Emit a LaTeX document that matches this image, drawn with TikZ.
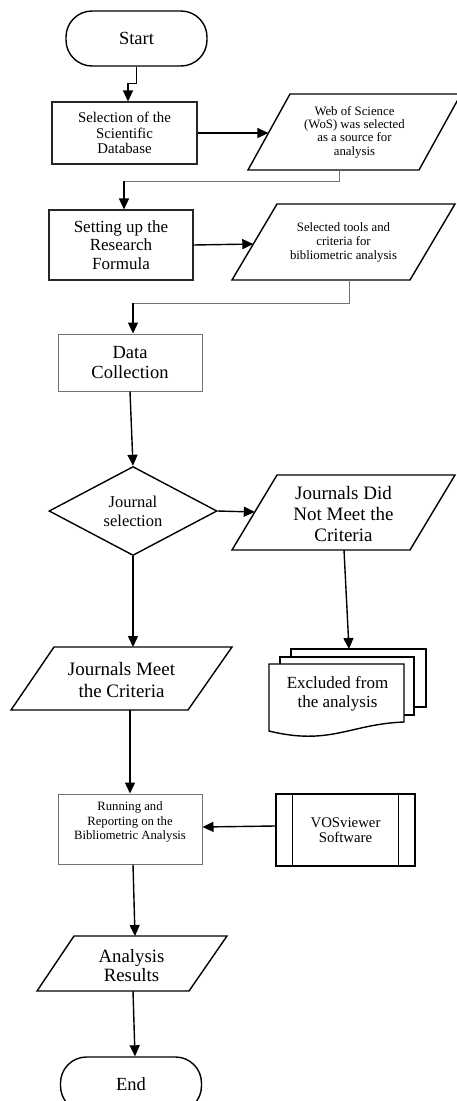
\documentclass[tikz,border=0pt]{standalone}
\usepackage{fontspec}
\setmainfont{Liberation Serif}
\usetikzlibrary{arrows.meta,shapes.geometric,calc}
\newcommand\myfs[2]{\fontsize{#1}{#2}\selectfont}
\begin{document}
\begin{tikzpicture}[x=1pt,y=-1pt,
  blk/.style={draw=black,line width=1.4pt},
  boxl/.style={draw=black!85,line width=1.1pt},
  gry/.style={draw=black!55,line width=1pt},
  thinline/.style={draw=black!55,line width=1pt},
  arr/.style={draw=black,line width=1.4pt,-{Triangle[length=11pt,width=10pt]}},
  term/.style={blk,rounded corners=26pt,minimum width=141pt,minimum height=55pt,inner sep=0pt,font=\myfs{18.5}{20}},
  txt/.style={align=center,inner sep=0pt}
]
\useasboundingbox (0,0) rectangle (457,1101);
\clip (0,0) rectangle (457,1101);
\fill[white] (0,0) rectangle (457,1101);

% Start
\node[term] (start) at (136.5,38.5) {Start};

% Box 1
\node[boxl,minimum width=145pt,minimum height=62pt,txt,font=\myfs{14.8}{15.7}] (box1) at (124.5,133) {Selection of the\\Scientific\\Database};

% Parallelogram 1
\draw[blk] (290,94) -- (461,94) -- (419,170) -- (248,170) -- cycle;
\node[txt,font=\myfs{12.8}{13.4}] (p1) at (354.5,132) {Web of Science\\(WoS) was selected\\as a source for\\analysis};
\coordinate (p1w) at (268.4,133);
\coordinate (p1s) at (339,170);

% Box 2
\node[boxl,minimum width=144pt,minimum height=70pt,txt,font=\myfs{17}{18.5}] (box2) at (121,245) {Setting up the\\Research\\Formula};

% Parallelogram 2
\draw[blk] (277,204) -- (455,204) -- (410,280) -- (232,280) -- cycle;
\node[txt,font=\myfs{12.8}{14}] (p2) at (343.5,242) {Selected tools and\\criteria for\\bibliometric analysis};
\coordinate (p2w) at (253.3,244);
\coordinate (p2s) at (349,280);

% Data collection
\node[gry,minimum width=144pt,minimum height=57pt,txt,font=\myfs{18.5}{20.5}] (dc) at (130,362.5) {Data\\Collection};

% Diamond
\node[blk,diamond,aspect=1.9,minimum width=168pt,minimum height=89pt,inner sep=0pt,align=center,font=\myfs{16.5}{19}] (dia) at (133,511) {Journal\\selection};

% Parallelogram 3
\draw[blk] (277,475) -- (455,475) -- (410,550) -- (232,550) -- cycle;
\node[txt,font=\myfs{19}{20.7}] (p3) at (343.5,514) {Journals Did\\Not Meet the\\Criteria};
\coordinate (p3w) at (254.8,512);
\coordinate (p3s) at (344,550);

% Parallelogram 4
\draw[blk] (54,647) -- (232,647) -- (188,710) -- (11,710) -- cycle;
\node[txt,font=\myfs{19}{21.4}] (p4) at (121.5,680) {Journals Meet\\the Criteria};
\coordinate (p4n) at (133,647);
\coordinate (p4s) at (130,710);

% Multi-document
\draw[blk,fill=white] (291,649) rectangle (426,707);
\draw[blk,fill=white] (280,657) rectangle (414,715);
\draw[blk,fill=white] (269,664) -- (404,664) -- (404,722) .. controls (350,724) and (330,746) .. (269,731) -- cycle;
\node[txt,font=\myfs{17}{18.7}] (excl) at (337.5,693.5) {Excluded from\\the analysis};
\coordinate (docn) at (349,649);

% Running box
\node[gry,minimum width=144pt,minimum height=70pt] (run) at (130,829) {};
\node[txt,font=\myfs{12.7}{14.2}] (runt) at (130,822) {Running and\\Reporting on the\\Bibliometric Analysis};

% VOSviewer
\node[blk,minimum width=139pt,minimum height=72pt,txt,font=\myfs{14.8}{15.2}] (vos) at (345.5,830) {VOSviewer\\Software};
\draw[blk] ([xshift=17pt]vos.north west) -- ([xshift=17pt]vos.south west);
\draw[blk] ([xshift=-17pt]vos.north east) -- ([xshift=-17pt]vos.south east);

% Parallelogram 5
\draw[blk] (74,936) -- (227,936) -- (189,991) -- (37,991) -- cycle;
\node[txt,font=\myfs{18.8}{19.5}] (p5) at (131.5,965.5) {Analysis\\Results};
\coordinate (p5n) at (135,936);
\coordinate (p5s) at (133,991);

% End
\node[term] (end) at (131,1084.5) {End};

% Connectors
\draw[arr] (start.south) -- ++(0,17) -| ([xshift=3.5pt]box1.north);
\draw[arr] (box1.east) -- (p1w);
\coordinate (c1) at (124,181);
\draw[thinline] (p1s) |- (c1);
\draw[arr] (c1) -- (c1 |- box2.north);
\draw[arr] (box2.east) -- (p2w);
\coordinate (c2) at (133,303);
\draw[thinline] (p2s) |- (c2);
\draw[arr] (c2) -- (c2 |- dc.north);
\draw[arr] (dc.south) -- (dia.north);
\draw[arr] (dia.east) -- (p3w);
\draw[arr] (dia.south) -- (p4n);
\draw[arr] (p3s) -- (docn);
\draw[arr] (p4s) -- (run.north);
\draw[arr] ([yshift=4pt]vos.west) -- ([yshift=2pt]run.east);
\draw[arr] ([xshift=3pt]run.south) -- (p5n);
\draw[arr] (p5s) -- ([xshift=4pt]end.north);
\end{tikzpicture}
\end{document}
